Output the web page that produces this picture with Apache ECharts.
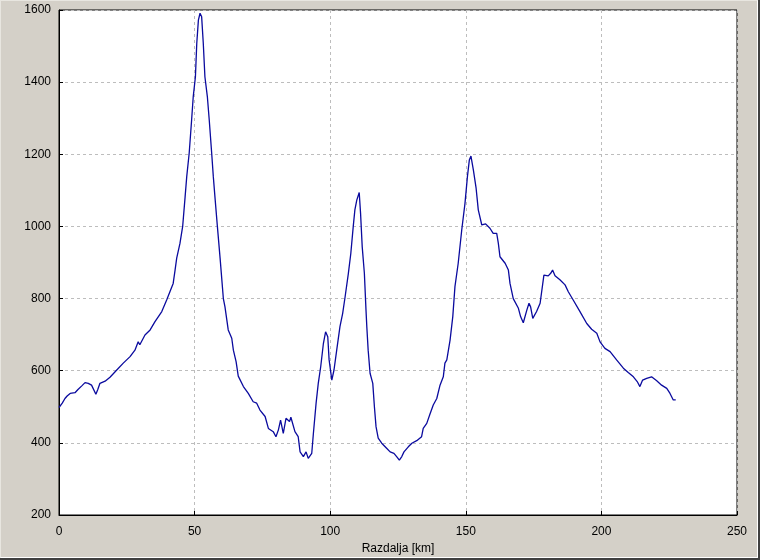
<!DOCTYPE html>
<html>
<head>
<meta charset="utf-8">
<script src="https://cdn.jsdelivr.net/npm/echarts@6/dist/echarts.min.js"></script>
<style>
  html, body { margin: 0; padding: 0; background: #d4d0c8; }
  #wrap { position: absolute; left: 0; top: 0; width: 760px; height: 560px; background: #d4d0c8; }
  #chart { position: absolute; left: 0; top: 0; width: 760px; height: 560px; }
  #frame { position: absolute; left: 0; top: 0; width: 756px; height: 556px; pointer-events: none;
           border-left: 1px solid #e8e6e0; border-top: 1px solid #e8e6e0;
           border-right: 1px solid #ffffff; border-bottom: 1px solid #ffffff; }
  #frame2 { position: absolute; left: 0; top: 0; width: 758px; height: 558px; pointer-events: none;
           border-right: 2px solid #404040; border-bottom: 2px solid #404040; box-sizing: content-box; }
</style>
</head>
<body>
<div id="wrap">
  <div id="chart"></div>
  <div id="frame"></div>
  <div id="frame2"></div>
</div>
<script>
// Distance along the route [km]
const distanceKm = [
  0, 0.4, 1.2, 2.2, 3.0, 4.1, 5.9, 7.0, 8.4, 9.6, 10.8, 12.0, 12.6, 13.6, 14.3, 15.1, 17.0, 18.8,
  21.3, 23.7, 26.2, 28.0, 29.2, 29.8, 31.7, 33.6, 35.4, 37.9, 39.7, 40.9, 42.1, 42.8, 43.4, 44.6,
  45.6, 46.5, 47.1, 48.0, 48.9, 49.5, 50.3, 50.8, 51.4, 52.0, 52.6, 53.2, 53.8, 54.7, 55.4, 56.3,
  56.9, 57.5, 58.4, 59.4, 60.6, 61.2, 62.4, 63.7, 64.0, 64.3, 65.3, 66.1, 68.0, 69.8, 71.6, 72.9,
  74.1, 76.0, 77.2, 79.0, 80.0, 80.9, 81.7, 82.7, 83.7, 85.0, 85.5, 87.0, 88.2, 88.9, 90.1, 91.1,
  91.9, 93.2, 93.8, 94.8, 95.6, 96.5, 97.5, 98.3, 99.1, 99.6, 100.6, 101.4, 102.4, 103.6, 104.6,
  105.5, 106.7, 107.6, 108.5, 109.1, 109.8, 110.7, 111.2, 111.8, 112.6, 113.2, 113.5, 114.0, 114.7,
  115.7, 116.3, 116.9, 117.7, 119.0, 120.8, 122.1, 123.5, 124.5, 125.5, 126.4, 127.2, 128.8, 130.1,
  131.9, 133.7, 134.3, 135.6, 136.8, 138.0, 139.3, 140.5, 141.7, 142.3, 143.0, 144.2, 145.2, 146.0,
  147.2, 148.5, 149.7, 150.6, 151.3, 151.9, 152.8, 153.8, 154.6, 155.9, 156.5, 157.3, 158.9, 160.1,
  161.4, 162.0, 162.6, 164.5, 165.7, 166.3, 167.5, 169.4, 170.2, 171.2, 172.5, 173.3, 173.9, 174.7,
  176.1, 177.4, 178.8, 180.4, 181.3, 182.0, 182.9, 184.7, 186.6, 187.8, 189.6, 192.1, 194.6, 196.4,
  198.3, 199.5, 201.3, 203.2, 205.6, 208.1, 209.9, 211.8, 213.2, 214.2, 215.2, 216.7, 218.5, 220.4,
  222.2, 224.1, 225.3, 226.5, 227.4
];
// Elevation [m]
const elevationM = [
  498, 500, 510, 523, 530, 537, 539, 548, 558, 567, 565, 560, 556, 535, 548, 565, 571, 582,
  602, 621, 639, 657, 680, 672, 699, 713, 736, 764, 796, 819, 842, 879, 912, 953,
  1000, 1082, 1138, 1203, 1295, 1360, 1415, 1508, 1572, 1591, 1581, 1508, 1415, 1360, 1295, 1203,
  1138, 1082, 1000, 912, 800, 777, 713, 690, 695, 657, 625, 585, 556, 537, 514, 510,
  491, 473, 440, 431, 417, 436, 463, 426, 468, 459, 471, 431, 417, 375, 362, 375,
  357, 371, 426, 510, 565, 611, 676, 708, 694, 630, 574, 602, 657, 722, 759,
  805, 870, 925, 1000, 1046, 1073, 1094, 1036, 944, 870, 768, 722, 657, 593,
  565, 500, 445, 413, 399, 385, 375, 371, 362, 352, 362, 375, 389, 399,
  406, 417, 440, 454, 480, 505, 523, 560, 583, 621, 630, 685, 750, 833,
  898, 990, 1064, 1138, 1184, 1195, 1156, 1106, 1046, 1004, 1000, 1007, 995, 981,
  981, 953, 916, 898, 879, 842, 800, 773, 750, 733, 768, 787, 777, 745,
  764, 787, 865, 863, 870, 879, 863, 852, 838, 819, 796, 764, 731, 715,
  704, 680, 662, 653, 630, 607, 595, 583, 570, 556, 574, 579, 583, 572,
  560, 551, 537, 519, 519
];
const xAxisName = 'Razdalja [km]';

const points = distanceKm.map((k, i) => [k, elevationM[i]]);

const chart = echarts.init(document.getElementById('chart'), null, { renderer: 'canvas' });
const font = 'Liberation Sans, Arial, sans-serif';
const plain = v => String(v);
chart.setOption({
  animation: false,
  backgroundColor: 'transparent',
  grid: {
    left: 59, right: 23, top: 10, bottom: 45,
    show: true, backgroundColor: '#ffffff', borderColor: '#000000', borderWidth: 1
  },
  xAxis: {
    type: 'value', min: 0, max: 250, interval: 50,
    name: xAxisName, nameLocation: 'middle', nameGap: 27,
    nameTextStyle: { color: '#000', fontSize: 12, fontFamily: font },
    axisLine: { show: true, lineStyle: { color: '#000', width: 1 } },
    axisTick: { show: true, inside: true, length: 4, lineStyle: { color: '#000' } },
    axisLabel: { color: '#000', fontSize: 12, fontFamily: font, margin: 11, formatter: plain },
    splitLine: { show: true, lineStyle: { color: '#bdbdbd', type: [3, 3], width: 1 } }
  },
  yAxis: {
    type: 'value', min: 200, max: 1600, interval: 200,
    axisLine: { show: true, lineStyle: { color: '#000', width: 1 } },
    axisTick: { show: true, inside: true, length: 4, lineStyle: { color: '#000' } },
    axisLabel: { color: '#000', fontSize: 12, fontFamily: font, margin: 8, formatter: plain },
    splitLine: { show: true, lineStyle: { color: '#bdbdbd', type: [3, 3], width: 1 } }
  },
  series: [{
    type: 'line',
    data: points,
    showSymbol: false,
    lineStyle: { color: '#0a0a9e', width: 1.3 },
    z: 3
  }]
});
</script>
</body>
</html>
